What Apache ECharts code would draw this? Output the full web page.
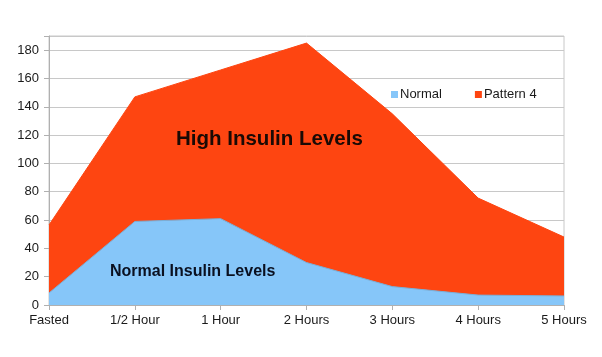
<!DOCTYPE html>
<html>
<head>
<meta charset="utf-8">
<script src="https://cdn.jsdelivr.net/npm/echarts@6/dist/echarts.min.js"></script>
<style>
html,body{margin:0;padding:0;background:#fff;}
#c{width:602px;height:357px;}
</style>
</head>
<body>
<div id="c"></div>
<script>
var categories = ['Fasted', '1/2 Hour', '1 Hour', '2 Hours', '3 Hours', '4 Hours', '5 Hours'];
var normalValues = [8.5, 59, 61, 30, 13, 7, 6.4];
var pattern4Values = [56.5, 147, 166, 185, 135, 75.5, 48];
var yTicks = [0, 20, 40, 60, 80, 100, 120, 140, 160, 180];

var FONT = 'Liberation Sans, Arial, sans-serif';
var chart = echarts.init(document.getElementById('c'), null, {renderer: 'canvas'});
chart.setOption({
  animation: false,
  backgroundColor: '#ffffff',
  grid: {left: 49, right: 38, top: 36, bottom: 52, show: true, borderColor: '#c8c8c8', borderWidth: 1},
  legend: {
    data: ['Normal', 'Pattern 4'],
    left: 391, top: 88, padding: 0,
    icon: 'rect', itemWidth: 7, itemHeight: 7, itemGap: 33,
    textStyle: {fontFamily: FONT, fontSize: 13, color: '#1a1a1a', padding: [0, 0, 0, -3]}
  },
  xAxis: {
    type: 'category', data: categories, boundaryGap: false,
    axisLine: {lineStyle: {color: '#b0b0b0'}},
    axisTick: {show: true, length: 5, lineStyle: {color: '#b0b0b0'}},
    axisLabel: {fontFamily: FONT, fontSize: 13, color: '#1a1a1a', margin: 9, interval: 0},
    splitLine: {show: false}
  },
  yAxis: {
    type: 'value', min: 0, max: 190, interval: 20,
    axisLine: {show: true, lineStyle: {color: '#b0b0b0'}},
    axisTick: {show: true, length: 5, lineStyle: {color: '#b0b0b0'}},
    axisLabel: {fontFamily: FONT, fontSize: 13, color: '#1a1a1a', margin: 10,
      formatter: function (v) { return yTicks.indexOf(v) >= 0 ? String(v) : ''; }},
    splitLine: {lineStyle: {color: '#c8c8c8'}}
  },
  series: [
    {
      name: 'Pattern 4', type: 'line', data: pattern4Values, symbol: 'none',
      lineStyle: {color: '#fe4511', width: 1},
      itemStyle: {color: '#fe4511'},
      areaStyle: {color: '#fe4511', opacity: 1}, z: 2
    },
    {
      name: 'Normal', type: 'line', data: normalValues, symbol: 'none',
      lineStyle: {color: '#7aafd8', width: 1},
      itemStyle: {color: '#86c6f9'},
      areaStyle: {color: '#86c6f9', opacity: 1}, z: 3
    }
  ],
  graphic: [
    {type: 'text', left: 176, top: 129, z: 100,
      style: {text: 'High Insulin Levels', font: 'bold 20.5px ' + FONT, fill: '#1a0a05'}},
    {type: 'text', left: 110, top: 264, z: 100,
      style: {text: 'Normal Insulin Levels', font: 'bold 16px ' + FONT, fill: '#0a1020'}}
  ]
});
</script>
</body>
</html>
